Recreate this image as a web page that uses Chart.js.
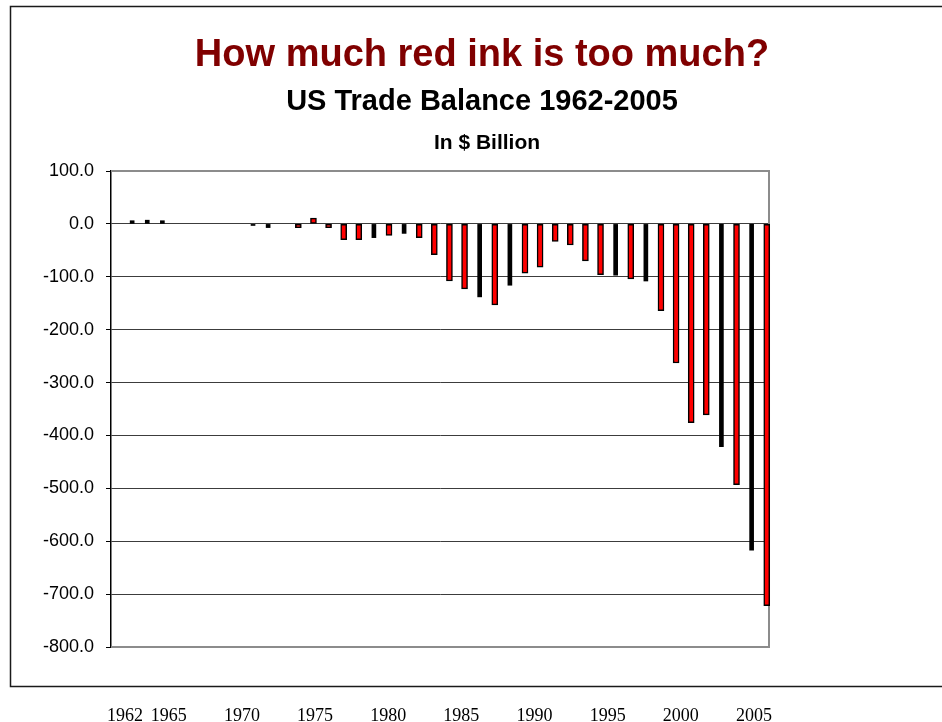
<!DOCTYPE html>
<html>
<head>
<meta charset="utf-8">
<title>US Trade Balance 1962-2005</title>
<script src="https://cdn.jsdelivr.net/npm/chart.js@4.4.1/dist/chart.umd.min.js"></script>
<style>
  body { margin: 0; background: #fff; }
</style>
</head>
<body>
<canvas id="chart" width="942" height="722"></canvas>
<script>
// data, $ billion
var years = [1962, 1963, 1964, 1965, 1966, 1967, 1968, 1969, 1970,
  1971, 1972, 1973, 1974, 1975, 1976, 1977, 1978, 1979, 1980,
  1981, 1982, 1983, 1984, 1985, 1986, 1987, 1988, 1989, 1990,
  1991, 1992, 1993, 1994, 1995, 1996, 1997, 1998, 1999, 2000,
  2001, 2002, 2003, 2004, 2005];
var balance = [null, 6, 7, 6, null, null, null, null, null,
  -3, -7, null, -7, 11, -7, -30, -30, -26, -22,
  -18, -26, -58, -108, -123, -138, -153, -116, -93, -82,
  -33, -40, -70, -96, -97, -104, -108, -164, -263, -376,
  -361, -421, -493, -617, -722];
var yearLabels = [1962, 1965, 1970, 1975, 1980, 1985, 1990, 1995, 2000, 2005];

var titleText = 'How much red ink is too much?';
var subtitleText = 'US Trade Balance 1962-2005';
var unitText = 'In $ Billion';

// bars that come out solid black on the slide
var darkYears = [1963, 1964, 1965, 1971, 1972, 1979, 1981, 1986, 1988, 1995, 1997, 2002, 2004];

function pick(dark) {
  return years.map(function(y, i) {
    var isDark = darkYears.indexOf(y) >= 0;
    return { x: y, y: (isDark === dark) ? balance[i] : null };
  });
}

var slideText = {
  id: 'slideText',
  beforeDraw: function(chart) {
    var ctx = chart.ctx;
    ctx.save();
    ctx.strokeStyle = '#1a1a1a';
    ctx.lineWidth = 1.5;
    ctx.strokeRect(10.5, 6.5, 1000, 680);
    ctx.restore();
  },
  beforeDatasetsDraw: function(chart) {
    var ctx = chart.ctx, a = chart.chartArea;
    ctx.save();
    ctx.strokeStyle = '#8c8c8c';
    ctx.lineWidth = 2;
    ctx.beginPath();
    ctx.moveTo(a.left, a.top);
    ctx.lineTo(a.right, a.top);
    ctx.lineTo(a.right, a.bottom);
    ctx.lineTo(a.left, a.bottom);
    ctx.stroke();
    ctx.restore();
  },
  afterDraw: function(chart) {
    var ctx = chart.ctx;
    ctx.save();
    ctx.textAlign = 'center';
    ctx.textBaseline = 'alphabetic';
    ctx.fillStyle = '#800000';
    ctx.font = 'bold 38px "Liberation Sans", Arial, sans-serif';
    ctx.fillText(titleText, 482, 66);
    ctx.fillStyle = '#000';
    ctx.font = 'bold 29px "Liberation Sans", Arial, sans-serif';
    ctx.fillText(subtitleText, 482, 110);
    ctx.font = 'bold 21px "Liberation Sans", Arial, sans-serif';
    ctx.fillText(unitText, 487, 149);
    ctx.restore();
  }
};

new Chart(document.getElementById('chart'), {
  type: 'bar',
  data: {
    datasets: [
      {
        label: 'Trade balance',
        data: pick(false),
        backgroundColor: '#ff0000',
        borderColor: '#000',
        borderWidth: 1.5,
        borderSkipped: false,
        barThickness: 6,
        clip: false
      },
      {
        label: 'Trade balance (dark)',
        data: pick(true),
        backgroundColor: '#000',
        borderColor: '#000',
        borderWidth: 0,
        borderSkipped: false,
        barThickness: 4,
        clip: false
      }
    ]
  },
  options: {
    responsive: false,
    animation: false,
    grouped: false,
    layout: { padding: { top: 171, right: 173, left: 0, bottom: 0 } },
    plugins: {
      legend: { display: false },
      tooltip: { enabled: false }
    },
    scales: {
      x: {
        type: 'linear',
        display: false,
        offset: false,
        min: 1961.6,
        max: 2005.15
      },
      years: {
        type: 'linear',
        position: 'bottom',
        offset: false,
        min: 1961.05,
        max: 2006.03,
        grid: { display: false, drawTicks: false, offset: false },
        border: { display: false },
        afterBuildTicks: function(scale) {
          scale.ticks = yearLabels.map(function(v) { return { value: v }; });
        },
        afterFit: function(scale) { scale.height = 75; },
        ticks: {
          autoSkip: false,
          maxRotation: 0,
          minRotation: 0,
          padding: 58,
          color: '#000',
          font: { family: '"Liberation Serif", "Times New Roman", serif', size: 18 },
          callback: function(v) { return String(v); }
        }
      },
      y: {
        min: -800,
        max: 100,
        afterFit: function(scale) { scale.width = 111; },
        border: { display: true, color: '#000', width: 1.5 },
        grid: {
          color: function(c) {
            var v = c.tick ? c.tick.value : 0;
            return (v === 100 || v === -800) ? 'rgba(0,0,0,0)' : '#3c3c3c';
          },
          tickColor: '#000',
          tickLength: 5,
          lineWidth: 1
        },
        ticks: {
          stepSize: 100,
          padding: 12,
          color: '#000',
          font: { family: '"Liberation Sans", Arial, sans-serif', size: 18 },
          callback: function(v) { return v.toFixed(1); }
        }
      }
    }
  },
  plugins: [slideText]
});
</script>
</body>
</html>
